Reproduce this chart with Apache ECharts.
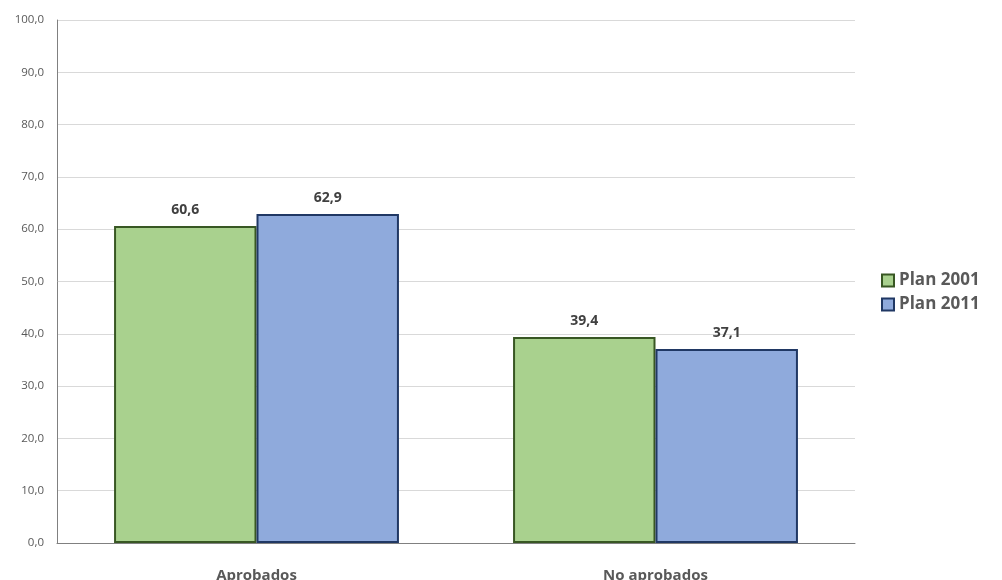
<!DOCTYPE html>
<html><head><meta charset="utf-8">
<script src="https://cdn.jsdelivr.net/npm/echarts@6/dist/echarts.min.js"></script>
<style>html,body{margin:0;padding:0;background:#fff}#c{width:1002px;height:580px}</style>
</head><body><div id="c"></div>
<script>
const categories = ['Aprobados', 'No aprobados'];
const plan2001 = [60.6, 39.4];
const plan2011 = [62.9, 37.1];
const seriesNames = ['Plan 2001', 'Plan 2011'];

const font = '"Open Sans", "Liberation Sans", sans-serif';
const fmt = v => v.toFixed(1).replace('.', ',');
const chart = echarts.init(document.getElementById('c'));
chart.setOption({
  animation: false,
  textStyle: { fontFamily: font },
  grid: { left: 57, right: 147, top: 20, bottom: 37, containLabel: false, outerBoundsMode: 'none' },
  legend: {
    orient: 'vertical', left: 876, top: 267, itemGap: 7,
    itemWidth: 12, itemHeight: 12, icon: 'rect',
    textStyle: { fontFamily: font, fontSize: 17, fontWeight: 'bold', color: '#595959', padding: [0,0,0,0] },
    data: seriesNames
  },
  xAxis: {
    type: 'category', data: categories,
    axisLine: { lineStyle: { color: '#808080', width: 1 } },
    axisTick: { show: false },
    axisLabel: { margin: 25, fontFamily: font, fontSize: 15, fontWeight: 'bold', color: '#595959' }
  },
  yAxis: {
    type: 'value', min: 0, max: 100, interval: 10,
    axisLine: { show: true, lineStyle: { color: '#808080', width: 1 } },
    axisTick: { show: false },
    splitLine: { lineStyle: { color: '#d9d9d9', width: 1 } },
    axisLabel: { margin: 13, fontFamily: font, fontSize: 11.5, color: '#595959', formatter: v => fmt(v) }
  },
  series: [
    { name: seriesNames[0], type: 'bar', data: plan2001, barGap: '0%', barCategoryGap: '28.6%',
      itemStyle: { color: '#a9d18e', borderColor: '#385723', borderWidth: 2 },
      label: { show: true, position: 'top', distance: 9, formatter: p => fmt(p.value), fontFamily: font, fontSize: 14, fontWeight: 'bold', color: '#404040' } },
    { name: seriesNames[1], type: 'bar', data: plan2011,
      itemStyle: { color: '#8faadc', borderColor: '#203864', borderWidth: 2 },
      label: { show: true, position: 'top', distance: 9, formatter: p => fmt(p.value), fontFamily: font, fontSize: 14, fontWeight: 'bold', color: '#404040' } }
  ]
});
</script></body></html>
